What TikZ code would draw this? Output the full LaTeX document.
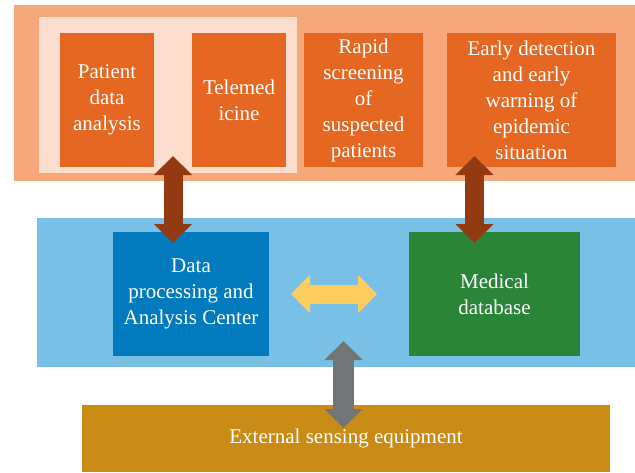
\documentclass[tikz,border=0pt]{standalone}
\usepackage{fontspec}
\setmainfont{Liberation Serif}
\usetikzlibrary{arrows.meta}
\definecolor{bandorange}{HTML}{F7A87B}
\definecolor{panelpeach}{HTML}{FDDDCE}
\definecolor{taskorange}{HTML}{E56722}
\definecolor{arrowbrown}{HTML}{923B12}
\definecolor{bandblue}{HTML}{79C0E7}
\definecolor{centerblue}{HTML}{017BBD}
\definecolor{dbgreen}{HTML}{2B8538}
\definecolor{arrowyellow}{HTML}{FECD60}
\definecolor{arrowgray}{HTML}{717576}
\definecolor{bandgold}{HTML}{C98B16}
\begin{document}
\begin{tikzpicture}[x=1pt,y=-1pt,
  plate/.style={inner sep=0pt,outer sep=0pt},
  task/.style={plate,fill=taskorange,text=white,align=center,font=\fontsize{21}{26}\selectfont},
  twoway/.style={line width=#1,{Triangle[width=37pt,length=19pt]}-{Triangle[width=37pt,length=19pt]}}]
\useasboundingbox (0,0) rectangle (635,472);
% layers
\node[plate,fill=bandorange,minimum width=621pt,minimum height=176pt] (apps) at (324.5,93) {};
\node[plate,fill=panelpeach,minimum width=258pt,minimum height=156pt] (panel) at (168,95) {};
\node[plate,fill=bandblue,minimum width=598pt,minimum height=149pt] (core) at (336,292.5) {};
\node[task,fill=bandgold,minimum width=528pt,minimum height=67pt] (ext) at (346,438.5) {External sensing equipment};
% application boxes
\node[task,minimum width=94pt,minimum height=134pt] (pda) at (107,100) {Patient\\data\\analysis};
\node[task,minimum width=94pt,minimum height=134pt] (tel) at (239,100) {Telemed\\icine};
\node[task,minimum width=119pt,minimum height=134pt] (rsp) at (363.5,100) {Rapid\\screening\\of\\suspected\\patients};
\node[task,minimum width=169pt,minimum height=134pt] (edw) at (531.5,100) {Early detection\\and early\\warning of\\epidemic\\situation};
% core boxes
\node[task,fill=centerblue,minimum width=156pt,minimum height=124pt] (dpc) at (191,294) {Data\\processing and\\Analysis Center};
\node[task,fill=dbgreen,minimum width=171pt,minimum height=124pt] (mdb) at (494.5,294) {Medical\\database};
% arrows
\coordinate (a1) at (173,156);
\coordinate (a2) at (474.5,156);
\coordinate (a3) at (343.5,341);
\draw[twoway=19pt,arrowbrown] (a1) -- ([yshift=-11pt]a1 |- dpc.north);
\draw[twoway=19pt,arrowbrown] (a2) -- ([yshift=-11pt]a2 |- mdb.north);
\draw[twoway=19pt,arrowyellow] ([xshift=22pt]dpc.east) -- ([xshift=-32pt]mdb.west);
\draw[twoway=21pt,arrowgray] (a3) -- ([yshift=-23pt]a3 |- ext.north);
\end{tikzpicture}
\end{document}
